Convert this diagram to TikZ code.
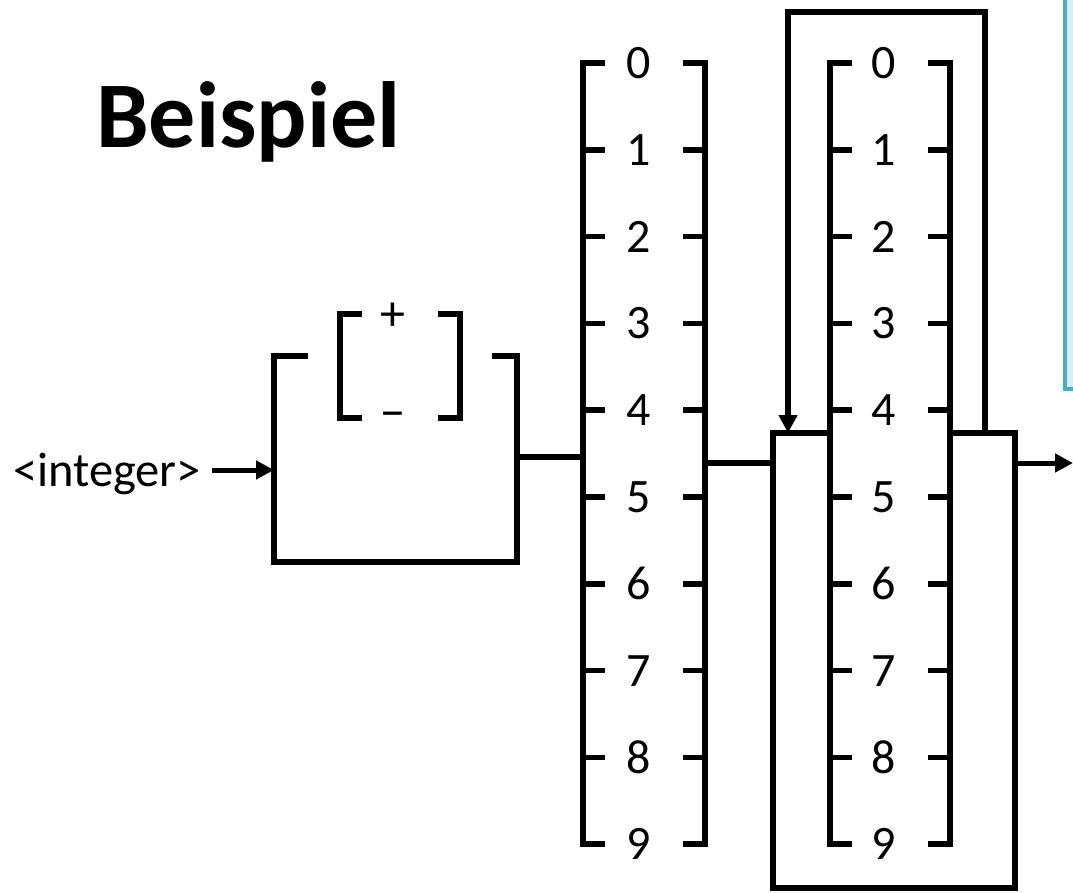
\documentclass[tikz,border=0pt]{standalone}
\usepackage{fontspec}
\setmainfont{Carlito}
\usetikzlibrary{arrows.meta}
\definecolor{boxfill}{RGB}{218,238,243}
\definecolor{boxline}{RGB}{75,172,198}
\begin{document}
\begin{tikzpicture}[x=1pt,y=-1pt,
  ln/.style={line width=5.5pt, line join=miter},
  tip/.style={-{Triangle[length=18pt,width=18pt]}},
  arr/.style={line width=5pt, tip},
  dig/.style={inner sep=0pt, font=\fontsize{48}{52}\selectfont},
  sgn/.style={inner sep=0pt, font=\fontsize{50}{54}\selectfont},
]
\useasboundingbox (0,0) rectangle (1073,893);
\begin{scope}
  \clip (0,0) rectangle (1073,893);
  \draw[fill=boxfill, draw=boxline, line width=4pt] (1065,-10) rectangle (1095,389);
\end{scope}

% title
\node[anchor=base west, inner sep=0pt, font=\fontsize{94}{100}\selectfont\bfseries] (title) at (96,148) {Beispiel};

% input label
\node[anchor=base west, inner sep=0pt, font=\fontsize{48.5}{52}\selectfont] (int) at (13,486) {<integer>};

% digit columns
\foreach \i in {0,...,9}{
  \pgfmathsetmacro\yy{63+86.8*\i}
  \node[dig] (a\i) at (639,\yy) {\i};
  \node[dig] (b\i) at (884,\yy) {\i};
  \coordinate (aL\i) at (583,\yy);
  \coordinate (aR\i) at (705,\yy);
  \coordinate (bL\i) at (830,\yy);
  \coordinate (bR\i) at (950,\yy);
}
% brackets column 1
\draw[ln] ([xshift=22pt]aL0) -- (aL0) -- (aL9) -- ([xshift=22pt]aL9);
\draw[ln] ([xshift=-22pt]aR0) -- (aR0) -- (aR9) -- ([xshift=-22pt]aR9);
% brackets column 2
\draw[ln] ([xshift=22pt]bL0) -- (bL0) -- (bL9) -- ([xshift=22pt]bL9);
\draw[ln] ([xshift=-22pt]bR0) -- (bR0) -- (bR9) -- ([xshift=-22pt]bR9);
\foreach \i in {1,...,8}{
  \draw[ln] (aL\i) -- ([xshift=22pt]aL\i);
  \draw[ln] (aR\i) -- ([xshift=-22pt]aR\i);
  \draw[ln] (bL\i) -- ([xshift=22pt]bL\i);
  \draw[ln] (bR\i) -- ([xshift=-22pt]bR\i);
}

% sign part
\node[sgn] (plus) at (393,317) {+};
\node[sgn] (minus) at (393,421) {−};
\draw[ln] (362,314) -- (340,314) -- (340,418) -- (362,418);
\draw[ln] (438,314) -- (460,314) -- (460,418) -- (438,418);
\coordinate (sIn) at (274,470);
\coordinate (sOut) at (517,457);
\draw[ln] (308,356) -- (274,356) -- (274,562) -- (517,562) -- (517,356) -- (492,356);

% connectors
\coordinate (inStart) at (212,470);
\draw[arr] (inStart) -- (sIn);
\draw[ln] (sOut) -- (583,457);
\coordinate (boxIn) at (773,463);
\draw[ln] (705,463) -- (boxIn);

% repetition box
\draw[ln] (bL0 |- 0,433) -- (773,433) -- (773,888) -- (1015,888) -- (1015,433) -- (bR0 |- 0,433);
\coordinate (loopStart) at (985,433);
\coordinate (loopEnd) at (788,433);
\draw[ln, tip] (loopStart) -- (985,12) -- (788,12) -- (loopEnd);

% output
\coordinate (boxOut) at (1015,463);
\coordinate (outEnd) at (1073,463);
\draw[arr] (boxOut) -- (outEnd);
\end{tikzpicture}
\end{document}
